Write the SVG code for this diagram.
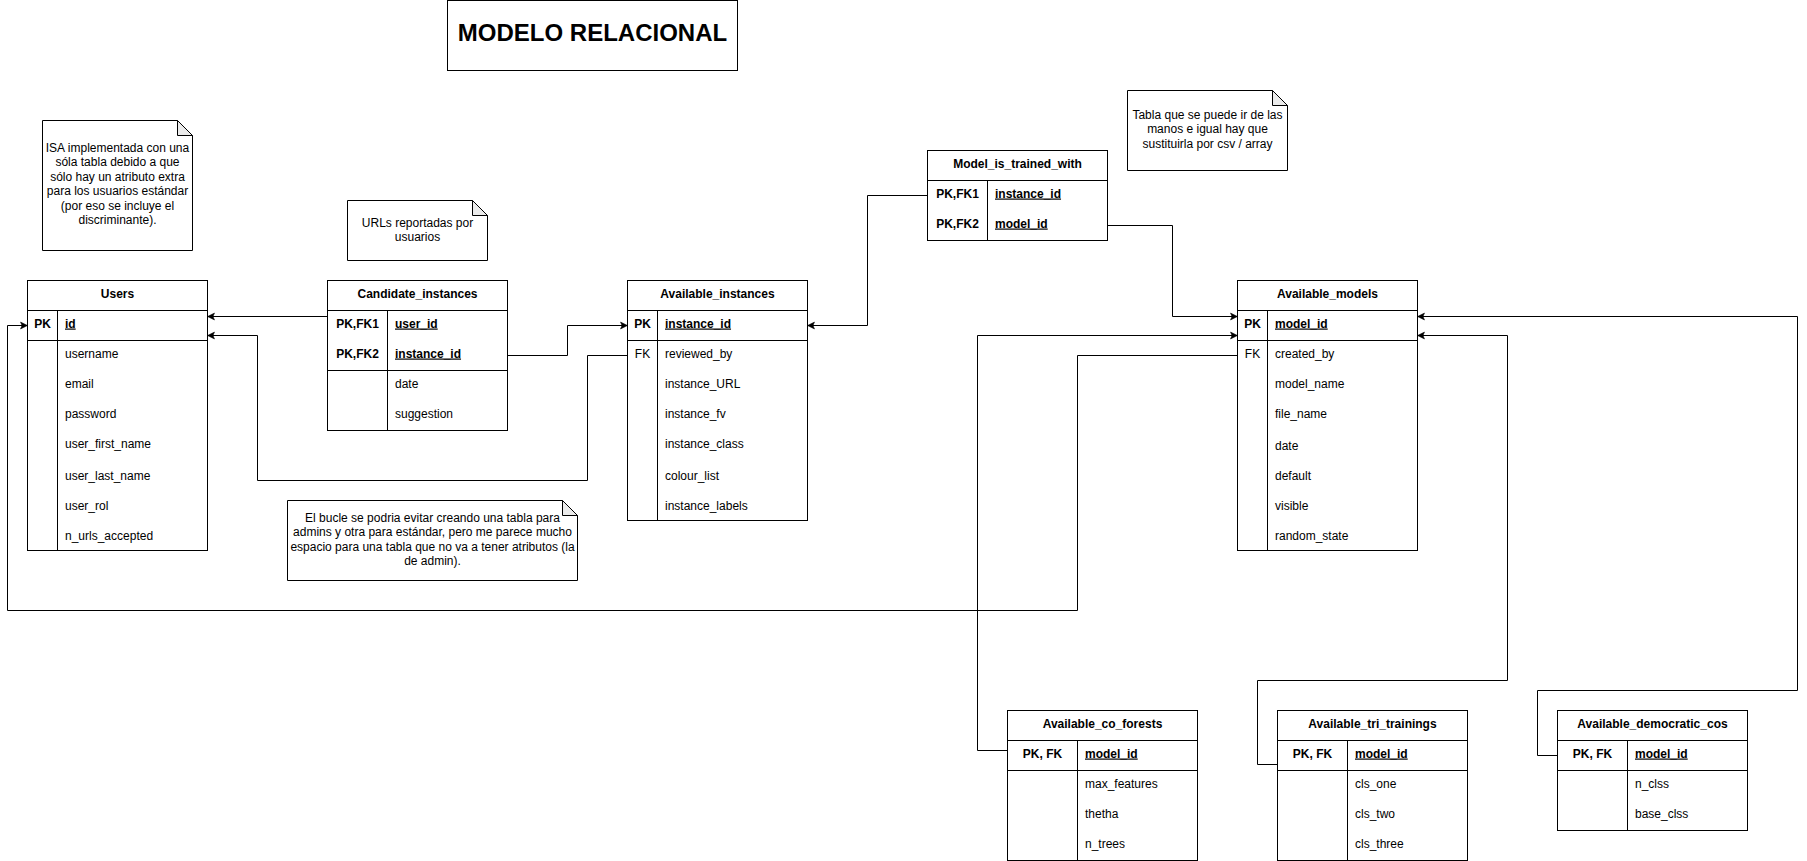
<svg xmlns="http://www.w3.org/2000/svg" width="1807" height="861" viewBox="0 0 1807 861">
<style>
text{font-family:"Liberation Sans",Arial,sans-serif;font-size:12px;fill:#000}
.h{font-weight:bold;text-anchor:middle}
.k{text-anchor:middle}
.kb{text-anchor:middle;font-weight:bold}
.pk{font-weight:bold;text-decoration:underline}
.n{text-anchor:middle}
.box{fill:#fff;stroke:#000;stroke-width:1}
.ln{stroke:#000;stroke-width:1;fill:none}
.fold{fill:#ebebeb;stroke:#000;stroke-width:1}
.c{stroke:#000;stroke-width:1;fill:none;marker-end:url(#arr)}
.title{font-size:24px;font-weight:bold;text-anchor:middle}
</style>
<defs>
<marker id="arr" markerUnits="userSpaceOnUse" markerWidth="10" markerHeight="10" viewBox="-8 -5 10 10" refX="0" refY="0" orient="auto">
<path d="M-7,-3.5 L0,0 L-7,3.5 L-5.5,0 Z" fill="#000" stroke="#000" stroke-width="0.5"/>
</marker>
</defs>
<rect width="1807" height="861" fill="#fff"/>

<g id="title">
<rect class="box" x="447.5" y="0.5" width="290" height="70"/>
<text class="title" x="592.5" y="40.5">MODELO RELACIONAL</text>
</g>

<g id="note-isa">
<path class="box" d="M42.5,120.5 H177.5 L192.5,135.5 V250.5 H42.5 Z"/>
<path class="fold" d="M177.5,120.5 V135.5 H192.5 Z"/>
<text class="n" x="117.5" y="152">ISA implementada con una</text>
<text class="n" x="117.5" y="166.4">sóla tabla debido a que</text>
<text class="n" x="117.5" y="180.8">sólo hay un atributo extra</text>
<text class="n" x="117.5" y="195.2">para los usuarios estándar</text>
<text class="n" x="117.5" y="209.6">(por eso se incluye el</text>
<text class="n" x="117.5" y="224">discriminante).</text>
</g>

<g id="note-urls">
<path class="box" d="M347.5,200.5 H472.5 L487.5,215.5 V260.5 H347.5 Z"/>
<path class="fold" d="M472.5,200.5 V215.5 H487.5 Z"/>
<text class="n" x="417.5" y="226.5">URLs reportadas por</text>
<text class="n" x="417.5" y="240.9">usuarios</text>
</g>

<g id="note-tabla">
<path class="box" d="M1127.5,90.5 H1272.5 L1287.5,105.5 V170.5 H1127.5 Z"/>
<path class="fold" d="M1272.5,90.5 V105.5 H1287.5 Z"/>
<text class="n" x="1207.5" y="119">Tabla que se puede ir de las</text>
<text class="n" x="1207.5" y="133.4">manos e igual hay que</text>
<text class="n" x="1207.5" y="147.8">sustituirla por csv / array</text>
</g>

<g id="note-bucle">
<path class="box" d="M287.5,500.5 H562.5 L577.5,515.5 V580.5 H287.5 Z"/>
<path class="fold" d="M562.5,500.5 V515.5 H577.5 Z"/>
<text class="n" x="432.5" y="522">El bucle se podria evitar creando una tabla para</text>
<text class="n" x="432.5" y="536.4">admins y otra para estándar, pero me parece mucho</text>
<text class="n" x="432.5" y="550.8">espacio para una tabla que no va a tener atributos (la</text>
<text class="n" x="432.5" y="565.2">de admin).</text>
</g>

<g id="users">
<rect class="box" x="27.5" y="280.5" width="180" height="270"/>
<path class="ln" d="M27.5,310.5 H207.5 M27.5,340.5 H207.5 M57.5,310.5 V550.5"/>
<text class="h" x="117.5" y="297.5">Users</text>
<text class="kb" x="42.5" y="327.5">PK</text>
<text class="pk" x="65" y="327.5">id</text>
<text x="65" y="358">username</text>
<text x="65" y="388">email</text>
<text x="65" y="418">password</text>
<text x="65" y="448">user_first_name</text>
<text x="65" y="479.5">user_last_name</text>
<text x="65" y="509.5">user_rol</text>
<text x="65" y="539.5">n_urls_accepted</text>
</g>

<g id="candidate_instances">
<rect class="box" x="327.5" y="280.5" width="180" height="150"/>
<path class="ln" d="M327.5,310.5 H507.5 M327.5,370.5 H507.5 M387.5,310.5 V430.5"/>
<text class="h" x="417.5" y="297.5">Candidate_instances</text>
<text class="kb" x="357.5" y="327.5">PK,FK1</text>
<text class="pk" x="395" y="327.5">user_id</text>
<text class="kb" x="357.5" y="357.5">PK,FK2</text>
<text class="pk" x="395" y="357.5">instance_id</text>
<text x="395" y="387.5">date</text>
<text x="395" y="417.5">suggestion</text>
</g>

<g id="available_instances">
<rect class="box" x="627.5" y="280.5" width="180" height="240"/>
<path class="ln" d="M627.5,310.5 H807.5 M627.5,340.5 H807.5 M657.5,310.5 V520.5"/>
<text class="h" x="717.5" y="297.5">Available_instances</text>
<text class="kb" x="642.5" y="327.5">PK</text>
<text class="pk" x="665" y="327.5">instance_id</text>
<text class="k" x="642.5" y="358">FK</text>
<text x="665" y="358">reviewed_by</text>
<text x="665" y="388">instance_URL</text>
<text x="665" y="418">instance_fv</text>
<text x="665" y="448">instance_class</text>
<text x="665" y="479.5">colour_list</text>
<text x="665" y="509.5">instance_labels</text>
</g>

<g id="model_is_trained_with">
<rect class="box" x="927.5" y="150.5" width="180" height="90"/>
<path class="ln" d="M927.5,180.5 H1107.5 M987.5,180.5 V240.5"/>
<text class="h" x="1017.5" y="167.5">Model_is_trained_with</text>
<text class="kb" x="957.5" y="197.5">PK,FK1</text>
<text class="pk" x="995" y="197.5">instance_id</text>
<text class="kb" x="957.5" y="227.5">PK,FK2</text>
<text class="pk" x="995" y="227.5">model_id</text>
</g>

<g id="available_models">
<rect class="box" x="1237.5" y="280.5" width="180" height="270"/>
<path class="ln" d="M1237.5,310.5 H1417.5 M1237.5,340.5 H1417.5 M1267.5,310.5 V550.5"/>
<text class="h" x="1327.5" y="297.5">Available_models</text>
<text class="kb" x="1252.5" y="327.5">PK</text>
<text class="pk" x="1275" y="327.5">model_id</text>
<text class="k" x="1252.5" y="358">FK</text>
<text x="1275" y="358">created_by</text>
<text x="1275" y="388">model_name</text>
<text x="1275" y="418">file_name</text>
<text x="1275" y="449.5">date</text>
<text x="1275" y="479.5">default</text>
<text x="1275" y="509.5">visible</text>
<text x="1275" y="539.5">random_state</text>
</g>

<g id="available_co_forests">
<rect class="box" x="1007.5" y="710.5" width="190" height="150"/>
<path class="ln" d="M1007.5,740.5 H1197.5 M1007.5,770.5 H1197.5 M1077.5,740.5 V860.5"/>
<text class="h" x="1102.5" y="727.5">Available_co_forests</text>
<text class="kb" x="1042.5" y="757.5">PK, FK</text>
<text class="pk" x="1085" y="757.5">model_id</text>
<text x="1085" y="788">max_features</text>
<text x="1085" y="818">thetha</text>
<text x="1085" y="848">n_trees</text>
</g>

<g id="available_tri_trainings">
<rect class="box" x="1277.5" y="710.5" width="190" height="150"/>
<path class="ln" d="M1277.5,740.5 H1467.5 M1277.5,770.5 H1467.5 M1347.5,740.5 V860.5"/>
<text class="h" x="1372.5" y="727.5">Available_tri_trainings</text>
<text class="kb" x="1312.5" y="757.5">PK, FK</text>
<text class="pk" x="1355" y="757.5">model_id</text>
<text x="1355" y="788">cls_one</text>
<text x="1355" y="818">cls_two</text>
<text x="1355" y="848">cls_three</text>
</g>

<g id="available_democratic_cos">
<rect class="box" x="1557.5" y="710.5" width="190" height="120"/>
<path class="ln" d="M1557.5,740.5 H1747.5 M1557.5,770.5 H1747.5 M1627.5,740.5 V830.5"/>
<text class="h" x="1652.5" y="727.5">Available_democratic_cos</text>
<text class="kb" x="1592.5" y="757.5">PK, FK</text>
<text class="pk" x="1635" y="757.5">model_id</text>
<text x="1635" y="788">n_clss</text>
<text x="1635" y="818">base_clss</text>
</g>

<g id="connectors">
<path class="c" d="M327.5,316.5 H207.5"/>
<path class="c" d="M627.5,355.5 H587.5 V480.5 H257.5 V335.5 H207.5"/>
<path class="c" d="M507.5,355.5 H567.5 V325.5 H627.5"/>
<path class="c" d="M927.5,195.5 H867.5 V325.5 H807.5"/>
<path class="c" d="M1107.5,225.5 H1172.5 V316.5 H1237.5"/>
<path class="c" d="M1007.5,750.5 H977.5 V335.5 H1237.5"/>
<path class="c" d="M1237.5,355.5 H1077.5 V610.5 H7.5 V325.5 H27.5"/>
<path class="c" d="M1277.5,764.5 H1257.5 V680.5 H1507.5 V335.5 H1417.5"/>
<path class="c" d="M1557.5,755.5 H1537.5 V690.5 H1797.5 V316.5 H1417.5"/>
</g>
</svg>
